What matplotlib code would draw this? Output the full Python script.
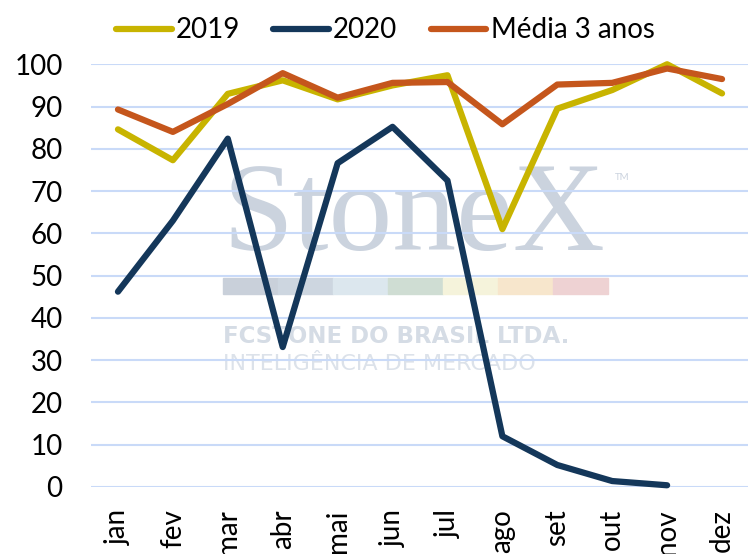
import numpy as np
import matplotlib.pyplot as plt
from matplotlib.patches import Rectangle

plt.rcParams['font.family'] = ['Lato', 'DejaVu Sans']

meses = ['jan', 'fev', 'mar', 'abr', 'mai', 'jun', 'jul', 'ago', 'set', 'out', 'nov', 'dez']
v2019 = [84.6, 77.3, 93.0, 96.2, 91.7, 95.0, 97.4, 61.0, 89.5, 93.9, 100.0, 93.1]
v2020 = [46.2, 63.0, 82.4, 33.1, 76.6, 85.2, 72.5, 12.0, 5.2, 1.4, 0.4, np.nan]
media = [89.3, 84.0, 90.6, 97.9, 92.1, 95.6, 95.8, 85.8, 95.2, 95.6, 99.0, 96.5]

fig = plt.figure(figsize=(7.48, 5.54), dpi=100)
ax = fig.add_axes([0.121, 0.121, 0.881, 0.763])

x = np.arange(len(meses))
ax.plot(x, v2019, color='#C8B400', lw=4.5, solid_capstyle='round', label='2019', zorder=3, clip_on=False)
ax.plot(x, v2020, color='#14375A', lw=4.5, solid_capstyle='round', label='2020', zorder=4, clip_on=False)
ax.plot(x, media, color='#C5561C', lw=4.5, solid_capstyle='round', label='Média 3 anos', zorder=5, clip_on=False)

ax.set_xlim(-0.5, 11.5)
ax.set_ylim(0, 100)
ax.set_yticks(range(0, 101, 10))
ax.set_xticks(x)
ax.set_xticklabels(meses, rotation=90, va='top')
ax.tick_params(length=0, labelsize=20)
ax.tick_params(axis='y', pad=20)
ax.tick_params(axis='x', pad=16)
ax.grid(axis='y', color='#C9DAF8', lw=1.5)
ax.set_axisbelow(True)
for s in ax.spines.values():
    s.set_visible(False)

# marca d'agua (atras das linhas e da grade)
wm = '#CBD3DE'
tf = fig.transFigure
ax.text(0.298, 0.548, 'StoneX', fontsize=92, family='Liberation Serif', color=wm,
        ha='left', va='baseline', transform=tf, zorder=0.2, clip_on=False)
ax.text(0.822, 0.675, 'TM', fontsize=7, color=wm, transform=tf, zorder=0.2, clip_on=False)
barcores = ['#C9D0DA', '#CDD6E0', '#DCE7EE', '#CFDDD3', '#F5F3DB', '#F7E6CC', '#EED2D3']
for i, c in enumerate(barcores):
    ax.add_patch(Rectangle((0.298 + i * 0.0735, 0.469), 0.0735, 0.029,
                           transform=tf, color=c, zorder=0.2, clip_on=False))
ax.text(0.298, 0.381, 'FCSTONE DO BRASIL LTDA.', fontsize=16.5, weight='bold',
        family='DejaVu Sans', color='#D5DCE5', transform=tf, zorder=0.2, clip_on=False)
ax.text(0.298, 0.332, 'INTELIGÊNCIA DE MERCADO', fontsize=16,
        family='DejaVu Sans', color='#DCE2EA', transform=tf, zorder=0.2, clip_on=False)

fig.legend(loc='center', bbox_to_anchor=(0.515, 0.945), ncol=3, frameon=False,
           fontsize=20, handlelength=2.0, handletextpad=0.15, columnspacing=1.2)

fig.savefig('out.png', dpi=100)
